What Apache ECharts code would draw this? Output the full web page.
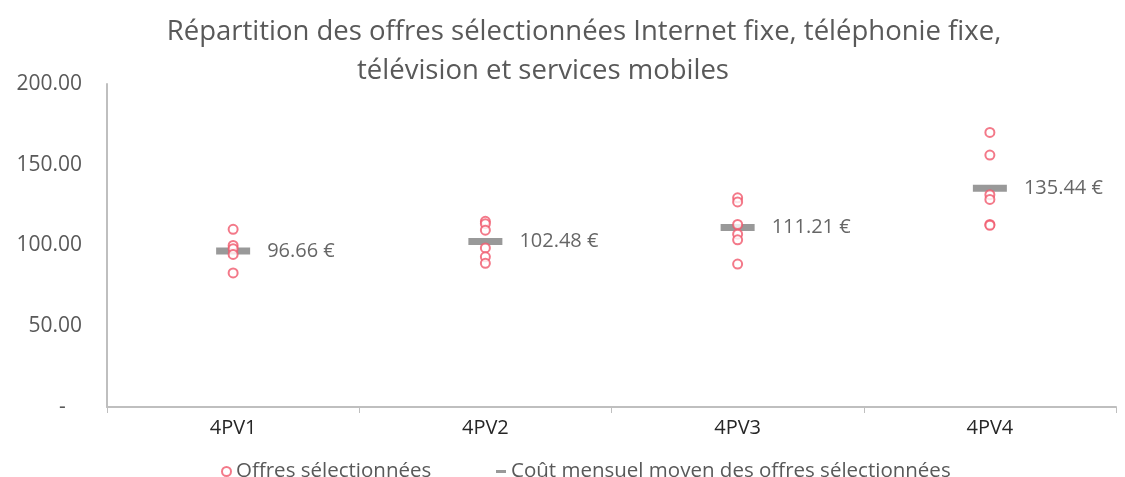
<!DOCTYPE html>
<html>
<head>
<meta charset="utf-8">
<script src="https://cdn.jsdelivr.net/npm/echarts@6/dist/echarts.min.js"></script>
<style>
  html, body { margin: 0; padding: 0; background: #fff; }
  #main { width: 1125px; height: 477px; }
</style>
</head>
<body>
<div id="main"></div>
<script>
// categories and values
var categories = ['4PV1', '4PV2', '4PV3', '4PV4'];
var offres4PV1 = [110, 100, 98, 94.5, 83];
var offres4PV2 = [115, 113.5, 109.5, 98.5, 93, 89];
var offres4PV3 = [129.5, 127, 113, 107, 103.5, 88.5];
var offres4PV4 = [170, 156, 131.5, 128.5, 113, 112.5];
var moyennes = [96.66, 102.48, 111.21, 135.44];
var yTicks = [0, 50, 100, 150, 200];

var grey = '#595959';
var font = 'Open Sans';

var offresData = [];
[offres4PV1, offres4PV2, offres4PV3, offres4PV4].forEach(function (arr, i) {
  arr.forEach(function (v) { offresData.push([categories[i], v]); });
});
var moyData = moyennes.map(function (v, i) { return [categories[i], v]; });

var chart = echarts.init(document.getElementById('main'));
var option = {
  animation: false,
  textStyle: { fontFamily: font },
  title: [
    {
      text: 'Répartition des offres sélectionnées Internet fixe, téléphonie fixe,',
      left: 579, top: 13, textAlign: 'center',
      textStyle: { fontSize: 27.5, fontWeight: 'normal', color: grey, fontFamily: font }
    },
    {
      text: 'télévision et services mobiles',
      left: 538, top: 52, textAlign: 'center',
      textStyle: { fontSize: 27.5, fontWeight: 'normal', color: grey, fontFamily: font }
    }
  ],
  legend: [
    {
      data: [{ name: 'Offres sélectionnées', icon: 'emptyCircle' }],
      left: 216, top: 456,
      itemWidth: 9, itemHeight: 9, itemGap: 6,
      textStyle: { fontSize: 20.5, color: grey, fontFamily: font }
    },
    {
      data: [{ name: 'Coût mensuel moyen des offres sélectionnées', icon: 'rect' }],
      left: 491, top: 456,
      itemWidth: 10, itemHeight: 3,
      textStyle: { fontSize: 20.5, color: grey, fontFamily: font }
    }
  ],
  grid: { left: 107, right: 9, top: 84, bottom: 70 },
  xAxis: {
    type: 'category',
    data: categories,
    boundaryGap: true,
    axisLine: { lineStyle: { color: '#bfbfbf', width: 2 } },
    axisTick: { show: true, alignWithLabel: false, length: 6, lineStyle: { color: '#bfbfbf' } },
    axisLabel: { fontSize: 20, color: '#262626', margin: 11 },
    splitLine: { show: false }
  },
  yAxis: {
    type: 'value',
    min: yTicks[0],
    max: yTicks[yTicks.length - 1],
    interval: 50,
    axisLine: { show: true, lineStyle: { color: '#bfbfbf', width: 2 } },
    axisTick: { show: false },
    splitLine: { show: false },
    axisLabel: {
      fontSize: 21, color: grey, margin: 25,
      formatter: function (v) { return v === 0 ? '-   ' : v.toFixed(2); }
    }
  },
  series: [
    {
      name: 'Offres sélectionnées',
      type: 'scatter',
      symbol: 'emptyCircle',
      symbolSize: 9,
      itemStyle: { color: '#f0586c', borderWidth: 1.2 },
      data: offresData,
      z: 3
    },
    {
      name: 'Coût mensuel moyen des offres sélectionnées',
      type: 'scatter',
      symbol: 'rect',
      symbolSize: [34, 7],
      itemStyle: { color: '#808080' },
      label: {
        show: true,
        position: 'right',
        distance: 17,
        fontSize: 20,
        color: '#404040',
        fontFamily: font,
        formatter: function (p) { return p.value[1].toFixed(2) + ' €'; }
      },
      data: moyData,
      z: 2
    }
  ]
};
chart.setOption(option);
</script>
</body>
</html>
